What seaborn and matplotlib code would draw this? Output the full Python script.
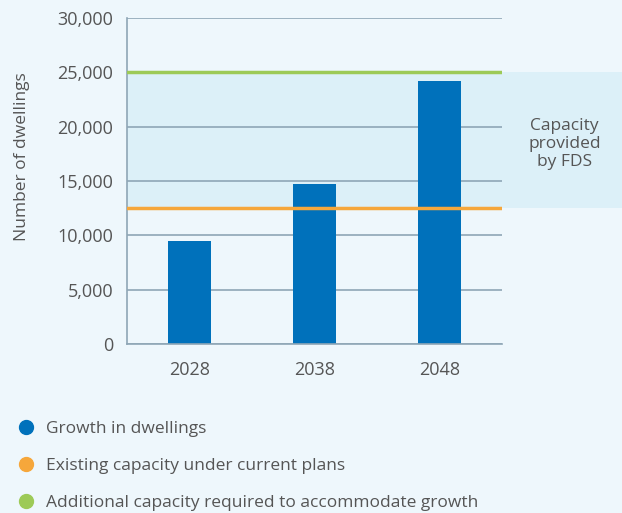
import numpy as np
import pandas as pd
import matplotlib.pyplot as plt
from matplotlib.lines import Line2D
import seaborn as sns

years = ['2028', '2038', '2048']
growth = [9500, 14700, 24200]
existing_capacity = 12500
required_capacity = 25000
y_ticks = [0, 5000, 10000, 15000, 20000, 25000, 30000]
legend_labels = ['Growth in dwellings',
                 'Existing capacity under current plans',
                 'Additional capacity required to accommodate growth']

bg = '#EEF7FC'
band = '#DCF0F8'
blue = '#0071BB'
orange = '#F6A73B'
green = '#9DCA57'
grid = '#8FA6B6'
txt = '#555555'

sns.set_style('white')
plt.rcParams['font.family'] = ['Open Sans', 'DejaVu Sans']

df = pd.DataFrame({'year': years, 'growth': growth})

fig = plt.figure(figsize=(6.22, 5.13), dpi=100, facecolor=bg)
ax = fig.add_axes([0.2042, 0.3294, 0.6029, 0.6355])
ax.set_facecolor(bg)

# shaded band, runs out past the axes to the right edge
ax.axhspan(existing_capacity, required_capacity, xmin=0, xmax=495 / 375,
           color=band, clip_on=False, zorder=0, lw=0)

for t in y_ticks:
    ax.axhline(t, color=grid, lw=1.2, zorder=1)

sns.barplot(data=df, x='year', y='growth', color=blue, width=0.345,
            saturation=1, linewidth=0, ax=ax, zorder=2)

ax.axhline(existing_capacity, color=orange, lw=2.5, zorder=3)
ax.axhline(required_capacity, color=green, lw=2.5, zorder=3)

ax.text(3.0, 18400, 'Capacity\nprovided\nby FDS', ha='center', va='center',
        fontsize=12.5, color=txt, linespacing=1.2)

ax.set_xlim(-0.5, 2.5)
ax.set_ylim(0, 30000)
ax.set_yticks(y_ticks)
ax.set_yticklabels([f'{t:,}' for t in y_ticks])
ax.set_xticks([0.5, 1.5], minor=True)
ax.tick_params(axis='x', which='minor', length=7, width=1.2, color=grid)
ax.tick_params(axis='x', which='major', length=0, pad=12)
ax.tick_params(axis='y', length=0, pad=10)
ax.tick_params(labelsize=13, labelcolor=txt)
ax.set_xlabel('')
ax.set_ylabel('Number of dwellings', fontsize=12.5, color=txt)
ax.yaxis.set_label_coords(-0.258, 0.574)

for s in ['top', 'right']:
    ax.spines[s].set_visible(False)
for s in ['left', 'bottom']:
    ax.spines[s].set_color(grid)
    ax.spines[s].set_linewidth(1.2)

handles = [Line2D([], [], marker='o', ls='', markersize=10, color=c)
           for c in [blue, orange, green]]
fig.legend(handles, legend_labels, loc='upper left',
           bbox_to_anchor=(0.0, 0.21), frameon=False, fontsize=12.5,
           labelcolor=txt, handletextpad=0.55, labelspacing=1.2,
           handlelength=1.2)

fig.savefig('out.png', dpi=100, facecolor=bg)
